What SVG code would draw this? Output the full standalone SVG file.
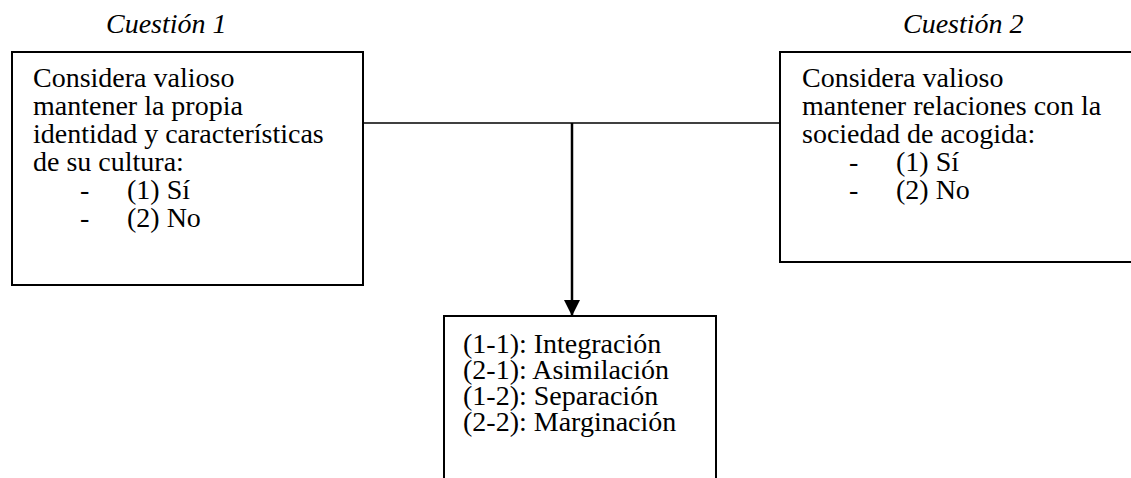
<svg xmlns="http://www.w3.org/2000/svg" width="1131" height="478" viewBox="0 0 1131 478">
<style>
.box{fill:#fff;stroke:#000;stroke-width:2}
.t{font-family:'Liberation Serif','Times New Roman',Tinos,serif;font-size:28px;fill:#000}
.it{font-style:italic}
</style>
<defs>
<marker id="ah" markerWidth="16" markerHeight="18" refX="15" refY="8" orient="auto" markerUnits="userSpaceOnUse">
<path d="M0,0 L16,8 L0,16 Z" fill="#000"/>
</marker>
</defs>
<g id="connectors" stroke="#000" fill="none">
<line x1="363" y1="123" x2="780" y2="123" stroke-width="1.5"/>
<line x1="572" y1="123" x2="572" y2="315" stroke-width="2.5" marker-end="url(#ah)"/>
</g>
<g id="cuestion1">
<rect class="box" x="12" y="52" width="351" height="233"/>
<text class="t it" x="106" y="33">Cuestión 1</text>
<text class="t" x="33" y="87">Considera valioso</text>
<text class="t" x="33" y="115">mantener la propia</text>
<text class="t" x="33" y="143">identidad y características</text>
<text class="t" x="33" y="171">de su cultura:</text>
<text class="t" x="80" y="199">-</text>
<text class="t" x="127" y="199">(1) Sí</text>
<text class="t" x="80" y="227">-</text>
<text class="t" x="127" y="227">(2) No</text>
</g>
<g id="cuestion2">
<rect class="box" x="780" y="52" width="360" height="210"/>
<text class="t it" x="903" y="33">Cuestión 2</text>
<text class="t" x="802" y="87">Considera valioso</text>
<text class="t" x="802" y="115">mantener relaciones con la</text>
<text class="t" x="802" y="143">sociedad de acogida:</text>
<text class="t" x="849" y="171">-</text>
<text class="t" x="896" y="171">(1) Sí</text>
<text class="t" x="849" y="199">-</text>
<text class="t" x="896" y="199">(2) No</text>
</g>
<g id="resultado">
<rect class="box" x="444" y="316" width="272" height="180"/>
<text class="t" x="463" y="353">(1-1): Integración</text>
<text class="t" x="463" y="379">(2-1): Asimilación</text>
<text class="t" x="463" y="405">(1-2): Separación</text>
<text class="t" x="463" y="431">(2-2): Marginación</text>
</g>
</svg>
